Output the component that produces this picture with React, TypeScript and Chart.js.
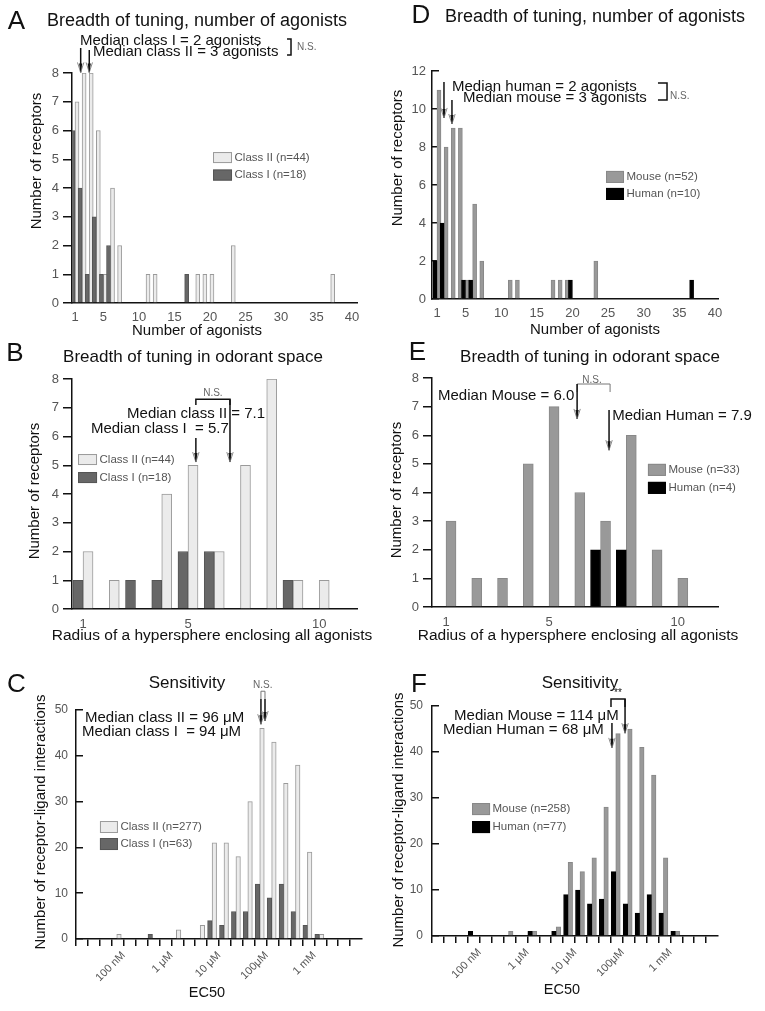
import React, { useEffect, useRef } from 'react';
import { Chart, registerables } from 'chart.js';

Chart.register(...registerables);

const FONT = '"Liberation Sans", Arial, Helvetica, sans-serif';

// ---------- Panel A: number of agonists (class I / class II) ----------
const agonistTicks = [1, 5, 10, 15, 20, 25, 30, 35, 40];
const classIAgonists = [1, 2, 3, 4, 5, 6, 17];
const classICounts = [6, 4, 1, 3, 1, 2, 1];
const classIIAgonists = [1, 2, 3, 4, 5, 6, 7, 11, 12, 18, 19, 20, 23, 37];
const classIICounts = [7, 8, 8, 6, 1, 4, 2, 1, 1, 1, 1, 1, 2, 1];

// ---------- Panel D: number of agonists (human / mouse) ----------
const humanAgonists = [1, 2, 5, 6, 20, 37];
const humanCounts = [2, 4, 1, 1, 1, 1];
const mouseAgonists = [1, 2, 3, 4, 5, 6, 7, 11, 12, 17, 18, 19, 23];
const mouseCounts = [11, 8, 9, 9, 1, 5, 2, 1, 1, 1, 1, 1, 2];

// ---------- Panels B / E: radius of hypersphere ----------
const radiusTicks = [1, 5, 10];
const radiusBins = [1, 2, 3, 4, 5, 6, 7, 8, 9, 10];
const classIRadius = [1, 0, 1, 1, 2, 2, 0, 0, 1, 0];
const classIIRadius = [2, 1, 0, 4, 5, 2, 5, 8, 1, 1];
const humanRadius = [0, 0, 0, 0, 0, 0, 2, 2, 0, 0];
const mouseRadius = [3, 1, 1, 5, 7, 4, 3, 6, 2, 1];

// ---------- Panels C / F: EC50 (quarter-decade bins starting at 10 nM) ----------
const ec50TickBins = [4, 8, 12, 16, 20];
const ec50TickLabels = ['100 nM', '1 \u03bcM', '10 \u03bcM', '100\u03bcM', '1 mM'];
const classIEc50Bins = [6, 11, 12, 13, 14, 15, 16, 17, 18, 19, 20];
const classIEc50Counts = [1, 4, 3, 6, 6, 12, 9, 12, 6, 3, 1];
const classIIEc50Bins = [3, 8, 10, 11, 12, 13, 14, 15, 16, 17, 18, 19, 20];
const classIIEc50Counts = [1, 2, 3, 21, 21, 18, 30, 46, 43, 34, 38, 19, 1];
const humanEc50Bins = [3, 8, 10, 11, 12, 13, 14, 15, 16, 17, 18, 19, 20];
const humanEc50Counts = [1, 1, 1, 9, 10, 7, 8, 14, 7, 5, 9, 5, 1];
const mouseEc50Bins = [6, 8, 10, 11, 12, 13, 14, 15, 16, 17, 18, 19, 20];
const mouseEc50Counts = [1, 1, 2, 16, 14, 17, 28, 44, 45, 41, 35, 17, 1];

// ---------- styles ----------
const LIGHT = { fill: '#ebebeb', stroke: '#9a9a9a' };
const DARK = { fill: '#676767', stroke: '#555555' };
const GRAY = { fill: '#999999', stroke: '#888888' };
const BLACK = { fill: '#000000', stroke: '#000000' };

function pts(xs: number[], ys: number[], shift = 0) {
  return xs.map((x, i) => ({ x: x + shift, y: ys[i] })).filter((p) => p.y > 0);
}

function ds(label: string, data: any[], st: { fill: string; stroke: string }, thick: number) {
  return {
    label,
    data,
    backgroundColor: st.fill,
    borderColor: st.stroke,
    borderWidth: 1,
    barThickness: thick,
  };
}

function drawItems(chart: any, items: any[]) {
  const ctx: CanvasRenderingContext2D = chart.ctx;
  const xs = chart.scales.x;
  const ys = chart.scales.y;
  const X = (v: number) => xs.getPixelForValue(v);
  const Y = (v: number) => ys.getPixelForValue(v);
  ctx.save();
  for (const it of items) {
    if (it.t === 'label') {
      ctx.font = `${it.size}px ${FONT}`;
      ctx.fillStyle = it.color || '#111';
      ctx.textAlign = 'center';
      ctx.textBaseline = 'middle';
      ctx.save();
      ctx.translate(it.px, it.py);
      if (it.rot) ctx.rotate(-Math.PI / 2);
      ctx.fillText(it.text, 0, 0);
      ctx.restore();
    } else if (it.t === 'text') {
      ctx.font = `${it.size || 15}px ${FONT}`;
      ctx.fillStyle = it.color || '#111';
      ctx.textAlign = it.align || 'left';
      ctx.textBaseline = 'middle';
      ctx.fillText(it.text, X(it.x), Y(it.y));
    } else if (it.t === 'arrow') {
      const x = X(it.x);
      const y1 = Y(it.y1);
      const y2 = Y(it.y2);
      ctx.strokeStyle = '#111';
      ctx.lineWidth = 1.5;
      ctx.beginPath();
      ctx.moveTo(x, y1);
      ctx.lineTo(x, y2);
      ctx.stroke();
      ctx.strokeStyle = '#8a8a8a';
      ctx.lineWidth = 1;
      ctx.beginPath();
      ctx.moveTo(x - 3.2, y2 - 10);
      ctx.lineTo(x, y2);
      ctx.lineTo(x + 3.2, y2 - 10);
      ctx.stroke();
      ctx.fillStyle = '#111';
      ctx.beginPath();
      ctx.moveTo(x - 1.6, y2 - 9);
      ctx.lineTo(x, y2);
      ctx.lineTo(x + 1.6, y2 - 9);
      ctx.closePath();
      ctx.fill();
    } else if (it.t === 'rbracket') {
      ctx.strokeStyle = it.color || '#111';
      ctx.lineWidth = it.lw || 1.5;
      ctx.beginPath();
      ctx.moveTo(X(it.x1), Y(it.y1));
      ctx.lineTo(X(it.x2), Y(it.y1));
      ctx.lineTo(X(it.x2), Y(it.y2));
      ctx.lineTo(X(it.x1), Y(it.y2));
      ctx.stroke();
    } else if (it.t === 'tbracket') {
      ctx.strokeStyle = it.color || '#111';
      ctx.lineWidth = it.lw || 1.5;
      ctx.beginPath();
      ctx.moveTo(X(it.x1), Y(it.yb));
      ctx.lineTo(X(it.x1), Y(it.yt));
      ctx.lineTo(X(it.x2), Y(it.yt));
      ctx.lineTo(X(it.x2), Y(it.yb));
      ctx.stroke();
    } else if (it.t === 'legend') {
      const x0 = X(it.x);
      const y0 = Y(it.y);
      it.entries.forEach((e: any, i: number) => {
        const by = y0 + i * it.rowH;
        ctx.fillStyle = e.st.fill;
        ctx.fillRect(x0, by, it.bw, it.bh);
        ctx.strokeStyle = e.st.stroke;
        ctx.lineWidth = 1;
        ctx.strokeRect(x0 + 0.5, by + 0.5, it.bw - 1, it.bh - 1);
        ctx.font = `${it.size}px ${FONT}`;
        ctx.fillStyle = '#555';
        ctx.textAlign = 'left';
        ctx.textBaseline = 'middle';
        ctx.fillText(e.label, x0 + it.bw + 2.5, by + it.bh / 2);
      });
    }
  }
  ctx.restore();
}

interface Panel {
  left: number;
  top: number;
  w: number;
  h: number;
  area: [number, number, number, number];
  datasets: any[];
  xMin: number;
  xMax: number;
  xTicks?: number[];
  ec50?: boolean;
  xPad: number;
  xFont: number;
  yMax: number;
  yStep: number;
  yTickLen: number;
  yPad: number;
  yFont: number;
  items: any[];
}

function buildConfig(p: Panel): any {
  const [l, t, r, b] = p.area;
  const xScale: any = {
    type: 'linear',
    min: p.xMin,
    max: p.xMax,
    offset: false,
    afterFit: (s: any) => {
      s.height = p.h - b;
    },
    border: { display: true, color: '#111', width: 1.5 },
  };
  if (p.ec50) {
    xScale.ticks = {
      stepSize: 1,
      autoSkip: false,
      minRotation: 45,
      maxRotation: 45,
      padding: p.xPad,
      color: '#555',
      font: { family: FONT, size: p.xFont },
      callback: (v: number) => {
        const k = ec50TickBins.indexOf(Math.round(v));
        return k >= 0 ? ec50TickLabels[k] : '';
      },
    };
    xScale.afterBuildTicks = (s: any) => {
      s.ticks = s.ticks.filter((tk: any) => tk.value <= 23);
    };
    xScale.grid = {
      display: true,
      offset: false,
      drawOnChartArea: false,
      drawTicks: true,
      tickLength: 7,
      color: '#111',
      lineWidth: 1.5,
    };
  } else {
    const tickVals = p.xTicks || [];
    xScale.afterBuildTicks = (s: any) => {
      s.ticks = tickVals.map((v) => ({ value: v }));
    };
    xScale.ticks = {
      autoSkip: false,
      maxRotation: 0,
      padding: p.xPad,
      color: '#555',
      font: { family: FONT, size: p.xFont },
    };
    xScale.grid = { display: false, offset: false, drawTicks: false };
  }
  return {
    type: 'bar',
    data: { datasets: p.datasets },
    options: {
      animation: false,
      responsive: false,
      maintainAspectRatio: false,
      devicePixelRatio: 1,
      layout: { padding: { left: 0, top: t, right: p.w - r, bottom: 0 } },
      plugins: {
        legend: { display: false },
        title: { display: false },
        tooltip: { enabled: false },
      },
      scales: {
        x: xScale,
        y: {
          type: 'linear',
          min: 0,
          max: p.yMax,
          afterFit: (s: any) => {
            s.width = l;
          },
          ticks: {
            stepSize: p.yStep,
            padding: p.yPad,
            color: '#555',
            font: { family: FONT, size: p.yFont },
          },
          grid: {
            display: true,
            drawOnChartArea: false,
            drawTicks: true,
            tickLength: p.yTickLen,
            color: '#111',
            lineWidth: 1.5,
          },
          border: { display: true, color: '#111', width: 1.5 },
        },
      },
    },
    plugins: [{ id: 'ann', afterDraw: (chart: any) => drawItems(chart, p.items) }],
  };
}

const lbl = (text: string, px: number, py: number, size: number, rot = false) => ({ t: 'label', text, px, py, size, rot });

const panels: Panel[] = [
  // A
  {
    left: 0, top: 0, w: 380, h: 338, area: [72, 73, 357, 303],
    datasets: [
      ds('Class I (n=18)', pts(classIAgonists, classICounts), DARK, 4),
      ds('Class II (n=44)', pts(classIIAgonists, classIICounts), LIGHT, 4),
    ],
    xMin: 0.578, xMax: 40.7, xTicks: agonistTicks, xPad: 7, xFont: 13,
    yMax: 8, yStep: 1, yTickLen: 9, yPad: 4, yFont: 13,
    items: [
      lbl('A', 16.5, 22, 26),
      lbl('Breadth of tuning, number of agonists', 197, 21, 18),
      lbl('Number of receptors', 37, 161, 15, true),
      lbl('Number of agonists', 197, 331, 15),
      { t: 'text', text: 'Median class I = 2 agonists', x: 1.7, y: 9.11 },
      { t: 'text', text: 'Median class II = 3 agonists', x: 3.53, y: 8.73 },
      { t: 'arrow', x: 1.8, y1: 8.87, y2: 8.02 },
      { t: 'arrow', x: 3.01, y1: 8.8, y2: 8.02 },
      { t: 'rbracket', x1: 30.85, x2: 31.41, y1: 9.18, y2: 8.63 },
      { t: 'text', text: 'N.S.', x: 32.26, y: 8.9, size: 10, color: '#666' },
      {
        t: 'legend', x: 20.43, y: 5.25, rowH: 17.5, bw: 19, bh: 11, size: 11.5,
        entries: [
          { label: 'Class II (n=44)', st: LIGHT },
          { label: 'Class I (n=18)', st: DARK },
        ],
      },
    ],
  },
  // D
  {
    left: 380, top: 0, w: 385, h: 338, area: [52, 71, 338, 299],
    datasets: [
      ds('Human (n=10)', pts(humanAgonists, humanCounts), BLACK, 4),
      ds('Mouse (n=52)', pts(mouseAgonists, mouseCounts), GRAY, 4),
    ],
    xMin: 0.3, xMax: 40.42, xTicks: agonistTicks, xPad: 7, xFont: 13,
    yMax: 12, yStep: 2, yTickLen: -7, yPad: 13, yFont: 13,
    items: [
      lbl('D', 41, 16, 26),
      lbl('Breadth of tuning, number of agonists', 215, 17, 18),
      lbl('Number of receptors', 18, 158, 15, true),
      lbl('Number of agonists', 215, 330, 15),
      { t: 'text', text: 'Median human = 2 agonists', x: 3.1, y: 11.16 },
      { t: 'text', text: 'Median mouse = 3 agonists', x: 4.65, y: 10.58 },
      { t: 'arrow', x: 1.98, y1: 11.42, y2: 9.53 },
      { t: 'arrow', x: 3.1, y1: 10.47, y2: 9.21 },
      { t: 'rbracket', x1: 32.0, x2: 33.27, y1: 11.37, y2: 10.47 },
      { t: 'text', text: 'N.S.', x: 33.69, y: 10.68, size: 10, color: '#666' },
      {
        t: 'legend', x: 24.71, y: 6.74, rowH: 17, bw: 18, bh: 12, size: 11.5,
        entries: [
          { label: 'Mouse (n=52)', st: GRAY },
          { label: 'Human (n=10)', st: BLACK },
        ],
      },
    ],
  },
  // B
  {
    left: 0, top: 338, w: 380, h: 312, area: [72, 41, 357, 271],
    datasets: [
      ds('Class I (n=18)', pts(radiusBins, classIRadius), DARK, 10),
      ds('Class II (n=44)', pts(radiusBins, classIIRadius), LIGHT, 10),
    ],
    xMin: 0.58, xMax: 11.44, xTicks: radiusTicks, xPad: 8, xFont: 13,
    yMax: 8, yStep: 1, yTickLen: 9, yPad: 4, yFont: 13,
    items: [
      lbl('B', 15, 16, 26),
      lbl('Breadth of tuning in odorant space', 193, 19, 17),
      lbl('Number of receptors', 35, 153, 15, true),
      lbl('Radius of a hypersphere enclosing all agonists', 212, 298, 15.5),
      { t: 'text', text: 'N.S.', x: 5.95, y: 7.51, size: 10, color: '#666', align: 'center' },
      { t: 'tbracket', x1: 5.3, x2: 6.6, yt: 7.3, yb: 7.1 },
      { t: 'text', text: 'Median class II = 7.1', x: 2.68, y: 6.78 },
      { t: 'text', text: 'Median class I  = 5.7', x: 1.3, y: 6.26 },
      { t: 'arrow', x: 5.3, y1: 5.95, y2: 5.11 },
      { t: 'arrow', x: 6.6, y1: 7.3, y2: 5.11 },
      {
        t: 'legend', x: 0.81, y: 5.39, rowH: 18, bw: 19, bh: 11, size: 11.5,
        entries: [
          { label: 'Class II (n=44)', st: LIGHT },
          { label: 'Class I (n=18)', st: DARK },
        ],
      },
    ],
  },
  // E
  {
    left: 380, top: 338, w: 385, h: 312, area: [52, 40, 338, 269],
    datasets: [
      ds('Human (n=4)', pts(radiusBins, humanRadius), BLACK, 10),
      ds('Mouse (n=33)', pts(radiusBins, mouseRadius), GRAY, 10),
    ],
    xMin: 0.456, xMax: 11.56, xTicks: radiusTicks, xPad: 8, xFont: 13,
    yMax: 8, yStep: 1, yTickLen: 9, yPad: 4, yFont: 13,
    items: [
      lbl('E', 37.5, 15, 26),
      lbl('Breadth of tuning in odorant space', 210, 19, 17),
      lbl('Number of receptors', 17, 152, 15, true),
      lbl('Radius of a hypersphere enclosing all agonists', 198, 298, 15.5),
      { t: 'text', text: 'N.S.', x: 6.67, y: 7.93, size: 10, color: '#666', align: 'center' },
      { t: 'tbracket', x1: 6.09, x2: 7.37, yt: 7.79, yb: 7.51, color: '#777', lw: 1 },
      { t: 'text', text: 'Median Mouse = 6.0', x: 0.69, y: 7.37 },
      { t: 'arrow', x: 6.09, y1: 7.79, y2: 6.57 },
      { t: 'arrow', x: 7.33, y1: 6.88, y2: 5.48 },
      { t: 'text', text: 'Median Human = 7.9', x: 7.45, y: 6.67 },
      {
        t: 'legend', x: 8.84, y: 5.0, rowH: 18, bw: 18, bh: 12, size: 11.5,
        entries: [
          { label: 'Mouse (n=33)', st: GRAY },
          { label: 'Human (n=4)', st: BLACK },
        ],
      },
    ],
  },
  // C
  {
    left: 0, top: 650, w: 380, h: 361, area: [76, 60, 362, 289],
    datasets: [
      ds('Class I (n=63)', pts(classIEc50Bins, classIEc50Counts, 0.42), DARK, 4.5),
      ds('Class II (n=277)', pts(classIIEc50Bins, classIIEc50Counts, 0.42), LIGHT, 4.5),
    ],
    xMin: 0, xMax: 24, ec50: true, xPad: 3, xFont: 11,
    yMax: 50, yStep: 10, yTickLen: -7, yPad: 15, yFont: 12,
    items: [
      lbl('C', 16.5, 35, 26),
      lbl('Sensitivity', 187, 33, 17),
      lbl('Number of receptor-ligand interactions', 41, 172, 15, true),
      lbl('EC50', 207, 343, 14.5),
      { t: 'text', text: 'N.S.', x: 14.85, y: 55.5, size: 10, color: '#666' },
      { t: 'tbracket', x1: 15.52, x2: 15.86, yt: 54.1, yb: 52.4, color: '#777', lw: 1 },
      { t: 'arrow', x: 15.52, y1: 52.4, y2: 46.9 },
      { t: 'arrow', x: 15.86, y1: 52.4, y2: 47.6 },
      { t: 'text', text: 'Median class II = 96 \u03bcM', x: 0.755, y: 48.25 },
      { t: 'text', text: 'Median class I  = 94 \u03bcM', x: 0.5, y: 45.2 },
      {
        t: 'legend', x: 2.01, y: 25.76, rowH: 17, bw: 18, bh: 12, size: 11.5,
        entries: [
          { label: 'Class II (n=277)', st: LIGHT },
          { label: 'Class I (n=63)', st: DARK },
        ],
      },
    ],
  },
  // F
  {
    left: 380, top: 650, w: 385, h: 361, area: [52, 56, 338, 286],
    datasets: [
      ds('Human (n=77)', pts(humanEc50Bins, humanEc50Counts, 0.42), BLACK, 4.5),
      ds('Mouse (n=258)', pts(mouseEc50Bins, mouseEc50Counts, 0.42), GRAY, 4.5),
    ],
    xMin: 0, xMax: 24, ec50: true, xPad: 3, xFont: 11,
    yMax: 50, yStep: 10, yTickLen: -7, yPad: 16, yFont: 12,
    items: [
      lbl('F', 39, 35, 26),
      lbl('Sensitivity', 200, 33, 17),
      lbl('Number of receptor-ligand interactions', 19, 170, 15, true),
      lbl('EC50', 182, 340, 14.5),
      { t: 'text', text: '**', x: 15.6, y: 52.8, size: 10, align: 'center' },
      { t: 'tbracket', x1: 15.02, x2: 16.2, yt: 51.5, yb: 49.8 },
      { t: 'arrow', x: 16.2, y1: 51.5, y2: 44.1 },
      { t: 'arrow', x: 15.1, y1: 46.3, y2: 40.9 },
      { t: 'text', text: 'Median Mouse = 114 \u03bcM', x: 1.85, y: 47.8 },
      { t: 'text', text: 'Median Human = 68 \u03bcM', x: 0.92, y: 44.8 },
      {
        t: 'legend', x: 3.36, y: 28.9, rowH: 18, bw: 18, bh: 12, size: 11.5,
        entries: [
          { label: 'Mouse (n=258)', st: GRAY },
          { label: 'Human (n=77)', st: BLACK },
        ],
      },
    ],
  },
];

function PanelChart({ spec }: { spec: Panel }) {
  const ref = useRef<HTMLCanvasElement>(null);
  useEffect(() => {
    const chart = new Chart(ref.current as HTMLCanvasElement, buildConfig(spec));
    return () => chart.destroy();
  }, [spec]);
  return (
    <canvas
      ref={ref}
      width={spec.w}
      height={spec.h}
      style={{ position: 'absolute', left: spec.left, top: spec.top, width: spec.w, height: spec.h }}
    />
  );
}

export default function App() {
  return (
    <div style={{ position: 'absolute', left: 0, top: 0, width: 765, height: 1011, background: '#fff', overflow: 'hidden' }}>
      {panels.map((p, i) => (
        <PanelChart key={i} spec={p} />
      ))}
    </div>
  );
}
